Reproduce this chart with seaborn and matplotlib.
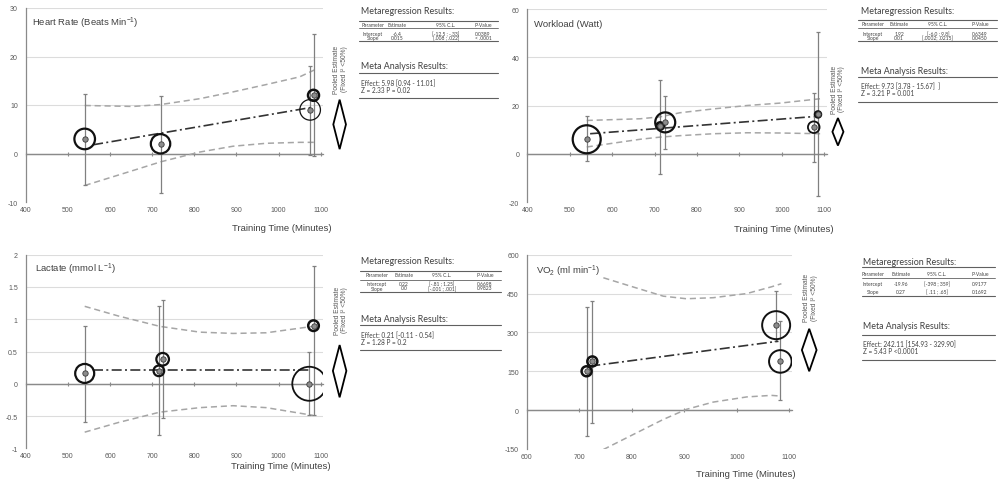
import matplotlib
matplotlib.use("Agg")
import matplotlib.pyplot as plt
import seaborn as sns
import pandas as pd
from matplotlib.lines import Line2D
from matplotlib.patches import Polygon

# ------------------------------------------------------------------ data
# Heart rate
HR_TIME = [540, 720, 1075, 1083]
HR_EFFECT = [3.0, 2.0, 9.0, 12.0]
HR_CI_LOW = [-6.5, -8.1, -0.3, -0.6]
HR_CI_HIGH = [12.2, 11.8, 18.1, 24.7]
HR_WEIGHT = [10.3, 9.7, 10.3, 5.5]
HR_REG_TIME = [560, 1078]
HR_REG_FIT = [1.8, 9.5]
HR_BAND_TIME = [540, 655, 721, 813, 892, 970, 1050, 1087]
HR_BAND_HIGH = [9.9, 9.7, 10.1, 11.3, 12.7, 14.2, 15.8, 17.3]
HR_BAND_LOW = [-6.6, -3.5, -1.7, 0.3, 1.5, 2.1, 2.3, 2.3]
HR_POOLED = [0.9, 6.0, 11.1]          # low, estimate, high
HR_YTICKS = [-10, 0, 10, 20, 30]

# Workload
WL_TIME = [540, 713, 725, 1075, 1085]
WL_EFFECT = [6.0, 11.5, 13.0, 11.0, 16.3]
WL_CI_LOW = [-3.2, -8.3, 1.8, -3.3, -17.7]
WL_CI_HIGH = [15.5, 30.6, 23.8, 25.0, 50.5]
WL_WEIGHT = [14.0, 3.7, 10.0, 5.8, 3.0]
WL_REG_TIME = [548, 1075]
WL_REG_FIT = [8.3, 15.4]
WL_BAND_TIME = [540, 666, 713, 760, 839, 918, 996, 1090]
WL_BAND_HIGH = [13.8, 14.5, 15.3, 17.0, 18.6, 20.0, 21.0, 22.8]
WL_BAND_LOW = [2.8, 6.0, 6.9, 7.5, 8.3, 8.7, 8.6, 8.3]
WL_POOLED = [3.4, 9.1, 14.8]
WL_YTICKS = [-20, 0, 20, 40, 60]

# Lactate
LA_TIME = [540, 716, 725, 1073, 1083]
LA_EFFECT = [0.16, 0.20, 0.38, 0.0, 0.90]
LA_CI_LOW = [-0.59, -0.80, -0.53, -0.48, -0.48]
LA_CI_HIGH = [0.90, 1.20, 1.30, 0.49, 1.82]
LA_WEIGHT = [9.5, 5.3, 6.3, 17.0, 5.3]
LA_REG_TIME = [560, 1078]
LA_REG_FIT = [0.21, 0.21]
LA_BAND_TIME = [540, 620, 718, 813, 892, 971, 1082]
LA_BAND_HIGH = [1.20, 1.05, 0.89, 0.80, 0.78, 0.79, 0.89]
LA_BAND_LOW = [-0.75, -0.60, -0.44, -0.37, -0.34, -0.37, -0.49]
LA_POOLED = [-0.21, 0.20, 0.60]
LA_YTICKS = [-1, -0.5, 0, 0.5, 1, 1.5, 2]

# VO2
VO_TIME = [714, 725, 1075, 1083]
VO_EFFECT = [150, 188, 328, 188]
VO_CI_LOW = [-100, -48, 268, 41]
VO_CI_HIGH = [398, 422, 460, 345]
VO_WEIGHT = [5.0, 5.0, 14.0, 11.3]
VO_REG_TIME = [721, 1079]
VO_REG_FIT = [170, 266]
VO_BAND_TIME = [746, 797, 860, 904, 955, 1019, 1066, 1085]
VO_BAND_HIGH = [511, 479, 440, 430, 434, 450, 476, 488]
VO_BAND_LOW = [-152, -100, -36, 3, 31, 51, 57, 54]
VO_POOLED = [150, 232, 314]
VO_YTICKS = [-150, 0, 150, 300, 450, 600]

TIME_TICKS = [400, 500, 600, 700, 800, 900, 1000, 1100]
VO_TIME_TICKS = [600, 700, 800, 900, 1000, 1100]

TITLES = [r"Heart Rate (Beats Min$^{-1}$)", "Workload (Watt)",
          r"Lactate (mmol L$^{-1}$)", r"VO$_{2}$ (ml min$^{-1}$)"]
X_LABEL = "Training Time (Minutes)"
POOLED_NOTE = "Pooled Estimate\n(Fixed I\u00b2 <50%)"

TABLE_TITLE = "Metaregression Results:"
META_TITLE = "Meta Analysis Results:"
TABLE_HEADER = ["Parameter", "Estimate", "95% C.L.", "P-Value"]
HR_TABLE_ROWS = [["Intercept", "-6.4", "[-12.5 ; -.33]", "0.0389"],
                 ["Slope", "0.015", "[.008 ; .022]", "< .0001"]]
HR_META = ["Effect: 5.98 [0.94 - 11.01]", "Z = 2.33 P = 0.02"]
WL_TABLE_ROWS = [["Intercept", "1.92", "[-6.0 ; 9.8]", "0.6349"],
                 ["Slope", "0.01", "[.0002; .0215]", "0.0450"]]
WL_META = ["Effect: 9.73 [3.78 - 15.67]  ]", "Z = 3.21 P = 0.001"]
LA_TABLE_ROWS = [["Intercept", "0.22", "[-.81 ; 1.25]", "0.6698"],
                 ["Slope", "0.0", "[-.001 ; .001]", "0.9823"]]
LA_META = ["Effect: 0.21 [-0.11 - 0.54]", "Z = 1.28 P = 0.2"]
VO_TABLE_ROWS = [["Intercept", "-19.96", "[-398 ; 359]", "0.9177"],
                 ["Slope", "0.27", "[ .11 ; .65]", "0.1692"]]
VO_META = ["Effect: 242.11 [154.93 - 329.90]", "Z = 5.43 P <0.0001"]

# ------------------------------------------------------------------ style
sns.set_style("white")
plt.rcParams["font.family"] = ["Liberation Sans", "DejaVu Sans"]
plt.rcParams["mathtext.default"] = "regular"
plt.rcParams["axes.unicode_minus"] = False

AXIS_COLOR = "#8a8a8a"
GRID_COLOR = "#dcdcdc"
TICK_COLOR = "#595959"
TEXT_COLOR = "#404040"
BAND_COLOR = "#a6a6a6"
REG_COLOR = "#333333"
ERR_COLOR = "#808080"
RING_COLOR = "#111111"
DOT_COLOR = "#8c8c8c"
TABLE_FONT = ["Lato", "DejaVu Sans"]

W, H = 1002, 485
fig = plt.figure(figsize=(W / 100, H / 100), dpi=100)
fig.patch.set_facecolor("white")


def fmt_tick(v):
    return ("%g" % v)


PANELS = [
    dict(time=HR_TIME, eff=HR_EFFECT, lo=HR_CI_LOW, hi=HR_CI_HIGH, w=HR_WEIGHT,
         ring_lw=[1.6, 1.6, 0.9, 1.8], reg_x=HR_REG_TIME, reg_y=HR_REG_FIT,
         band_x=HR_BAND_TIME, band_hi=HR_BAND_HIGH, band_lo=HR_BAND_LOW,
         pooled=HR_POOLED, yticks=HR_YTICKS, xticks=TIME_TICKS, title=TITLES[0],
         rect=(25.7, 9, 323.2, 203), xlim=(400, 1106),
         title_pos=(0.021, 0.928), xlabel_pos=(1.028, -0.129),
         dia_x=1145, dia_hw=15, note_xy=(1147, 17.5)),
    dict(time=WL_TIME, eff=WL_EFFECT, lo=WL_CI_LOW, hi=WL_CI_HIGH, w=WL_WEIGHT,
         ring_lw=[1.6, 1.8, 1.6, 1.3, 1.8], reg_x=WL_REG_TIME, reg_y=WL_REG_FIT,
         band_x=WL_BAND_TIME, band_hi=WL_BAND_HIGH, band_lo=WL_BAND_LOW,
         pooled=WL_POOLED, yticks=WL_YTICKS, xticks=TIME_TICKS, title=TITLES[1],
         rect=(527.3, 10, 826.9, 203), xlim=(400, 1106),
         title_pos=(0.023, 0.927), xlabel_pos=(1.024, -0.136),
         dia_x=1132, dia_hw=13, note_xy=(1132, 27)),
    dict(time=LA_TIME, eff=LA_EFFECT, lo=LA_CI_LOW, hi=LA_CI_HIGH, w=LA_WEIGHT,
         ring_lw=[1.6, 1.6, 1.6, 1.3, 1.8], reg_x=LA_REG_TIME, reg_y=LA_REG_FIT,
         band_x=LA_BAND_TIME, band_hi=LA_BAND_HIGH, band_lo=LA_BAND_LOW,
         pooled=LA_POOLED, yticks=LA_YTICKS, xticks=TIME_TICKS, title=TITLES[2],
         rect=(25.7, 255.7, 323.2, 449.3), xlim=(400, 1106),
         title_pos=(0.031, 0.93), xlabel_pos=(1.025, -0.09),
         dia_x=1145, dia_hw=16, note_xy=(1148, 1.15)),
    dict(time=VO_TIME, eff=VO_EFFECT, lo=VO_CI_LOW, hi=VO_CI_HIGH, w=VO_WEIGHT,
         ring_lw=[1.8, 1.8, 1.4, 1.4], reg_x=VO_REG_TIME, reg_y=VO_REG_FIT,
         band_x=VO_BAND_TIME, band_hi=VO_BAND_HIGH, band_lo=VO_BAND_LOW,
         pooled=VO_POOLED, yticks=VO_YTICKS, xticks=VO_TIME_TICKS, title=TITLES[3],
         rect=(526.7, 255.7, 791.9, 450), xlim=(600, 1105),
         title_pos=(0.035, 0.918), xlabel_pos=(1.015, -0.125),
         dia_x=1138, dia_hw=14, note_xy=(1140, 438)),
]


def draw_panel(p):
    l, t, r, b = p["rect"]
    ax = fig.add_axes([l / W, 1 - b / H, (r - l) / W, (b - t) / H])
    ax.set_facecolor("white")
    ax.set_xlim(*p["xlim"])
    ax.set_ylim(p["yticks"][0], p["yticks"][-1])
    for s in ["top", "right", "bottom"]:
        ax.spines[s].set_visible(False)
    ax.spines["left"].set_color(AXIS_COLOR)
    ax.spines["left"].set_linewidth(0.9)
    ax.set_yticks(p["yticks"])
    ax.set_yticklabels([fmt_tick(v) for v in p["yticks"]])
    ax.set_xticks(p["xticks"])
    ax.set_xticklabels([fmt_tick(v) for v in p["xticks"]])
    ax.tick_params(axis="y", direction="out", length=2.2, width=0.8,
                   color=AXIS_COLOR, labelsize=5, labelcolor=TICK_COLOR, pad=3.5)
    ax.tick_params(axis="x", length=0, labelsize=5, labelcolor=TICK_COLOR, pad=3)
    ax.yaxis.grid(True, color=GRID_COLOR, lw=0.8)
    ax.xaxis.grid(False)
    for v, gl in zip(p["yticks"], ax.get_ygridlines()):
        if v == p["yticks"][0] or v == 0:
            gl.set_visible(False)
    ax.set_axisbelow(True)

    # x axis line through zero, with its tick marks
    ax.axhline(0, color=AXIS_COLOR, lw=0.9, zorder=1.5)
    y0, y1 = ax.get_ylim()
    sec = ax.secondary_xaxis((0 - y0) / (y1 - y0))
    sec.set_xticks(p["xticks"])
    sec.tick_params(axis="x", direction="inout", length=3.5, width=0.8,
                    color=AXIS_COLOR, labelbottom=False, labeltop=False)
    for sp in sec.spines.values():
        sp.set_color(AXIS_COLOR)
        sp.set_linewidth(0.9)

    band = pd.DataFrame({"time": p["band_x"], "high": p["band_hi"], "low": p["band_lo"]})
    for col in ["high", "low"]:
        sns.lineplot(data=band, x="time", y=col, ax=ax, color=BAND_COLOR, lw=1.1,
                     linestyle=(0, (4, 2.5)), zorder=2)

    ax.errorbar(p["time"], p["eff"],
                yerr=[[e - lo for e, lo in zip(p["eff"], p["lo"])],
                      [hi - e for e, hi in zip(p["eff"], p["hi"])]],
                fmt="none", ecolor=ERR_COLOR, elinewidth=0.9, capsize=1.6,
                capthick=0.9, zorder=3)

    reg = pd.DataFrame({"time": p["reg_x"], "fit": p["reg_y"]})
    sns.lineplot(data=reg, x="time", y="fit", ax=ax, color=REG_COLOR, lw=1.2,
                 linestyle=(0, (6, 2, 1.2, 2)), zorder=3.5)

    ax.scatter(p["time"], p["eff"], s=[(2 * r_ * 0.72) ** 2 for r_ in p["w"]],
               facecolors="none", edgecolors=RING_COLOR, linewidths=p["ring_lw"],
               zorder=4)
    pts = pd.DataFrame({"time": p["time"], "eff": p["eff"]})
    sns.scatterplot(data=pts, x="time", y="eff", ax=ax, s=15, color=DOT_COLOR,
                    edgecolor="#3a3a3a", linewidth=0.6, zorder=5, legend=False)

    lo, mid, hi = p["pooled"]
    xc, hw = p["dia_x"], p["dia_hw"]
    ax.add_patch(Polygon([(xc - hw, mid), (xc, hi), (xc + hw, mid), (xc, lo)],
                         closed=True, facecolor="white", edgecolor="black",
                         lw=1.3, clip_on=False, zorder=6))
    ax.text(p["note_xy"][0], p["note_xy"][1], POOLED_NOTE, rotation=90,
            ha="center", va="center", fontsize=4.8, color=TICK_COLOR,
            linespacing=1.15, clip_on=False)

    ax.text(*p["title_pos"], p["title"], transform=ax.transAxes, ha="left",
            va="center", fontsize=6.8, color=TEXT_COLOR)
    ax.text(*p["xlabel_pos"], X_LABEL, transform=ax.transAxes, ha="right",
            va="center", fontsize=6.8, color=TEXT_COLOR)
    ax.set_xlabel("")
    ax.set_ylabel("")
    return ax


for p in PANELS:
    draw_panel(p)

# ------------------------------------------------------------------ tables
TABLES = [
    dict(rows=HR_TABLE_ROWS, meta=HR_META, x=361, lx=(359, 498),
         cols=(373, 397, 446, 483), y_title=12, y_top=21.7, y_head=25.4,
         y_hline=29.3, y_rows=(34.2, 38.6), y_bot=42.2, y_mtitle=66.7,
         y_mline=74, y_mrows=(84, 90.7), y_mbot=99),
    dict(rows=WL_TABLE_ROWS, meta=WL_META, x=861, lx=(858, 997),
         cols=(873, 899, 938, 980), y_title=12, y_top=21, y_head=25,
         y_hline=29.3, y_rows=(34.3, 38.7), y_bot=42.3, y_mtitle=71,
         y_mline=78, y_mrows=(87, 94), y_mbot=103),
    dict(rows=LA_TABLE_ROWS, meta=LA_META, x=361, lx=(360, 501),
         cols=(377, 404, 442, 485), y_title=262, y_top=271.7, y_head=276,
         y_hline=280.7, y_rows=(284.7, 289), y_bot=292.7, y_mtitle=320,
         y_mline=326, y_mrows=(336, 342.3), y_mbot=351),
    dict(rows=VO_TABLE_ROWS, meta=VO_META, x=862.7, lx=(861.7, 995),
         cols=(873, 901, 937, 980), y_title=262.3, y_top=268.3, y_head=275,
         y_hline=279.3, y_rows=(284.3, 292.3), y_bot=296.7, y_mtitle=326.7,
         y_mline=336, y_mrows=(345, 351.7), y_mbot=361),
]


def ftext(x, y, s, size, ha="left"):
    fig.text(x / W, 1 - y / H, s, ha=ha, va="center", fontsize=size,
             color=TEXT_COLOR, family=TABLE_FONT)


def fline(x0, x1, y, lw=0.8):
    fig.add_artist(Line2D([x0 / W, x1 / W], [1 - y / H, 1 - y / H],
                          transform=fig.transFigure, color="#606060", lw=lw))


for tb in TABLES:
    ftext(tb["x"], tb["y_title"], TABLE_TITLE, 6.4)
    fline(*tb["lx"], tb["y_top"])
    for cx, h in zip(tb["cols"], TABLE_HEADER):
        ftext(cx, tb["y_head"], h, 3.6, ha="center")
    fline(*tb["lx"], tb["y_hline"], lw=0.6)
    for ry, row in zip(tb["y_rows"], tb["rows"]):
        for cx, cell in zip(tb["cols"], row):
            ftext(cx, ry, cell, 3.6, ha="center")
    fline(*tb["lx"], tb["y_bot"])
    ftext(tb["x"], tb["y_mtitle"], META_TITLE, 6.4)
    fline(*tb["lx"], tb["y_mline"])
    for ry, line in zip(tb["y_mrows"], tb["meta"]):
        ftext(tb["x"], ry, line, 4.7)
    fline(*tb["lx"], tb["y_mbot"])

fig.savefig("out.png", dpi=100, facecolor="white")
